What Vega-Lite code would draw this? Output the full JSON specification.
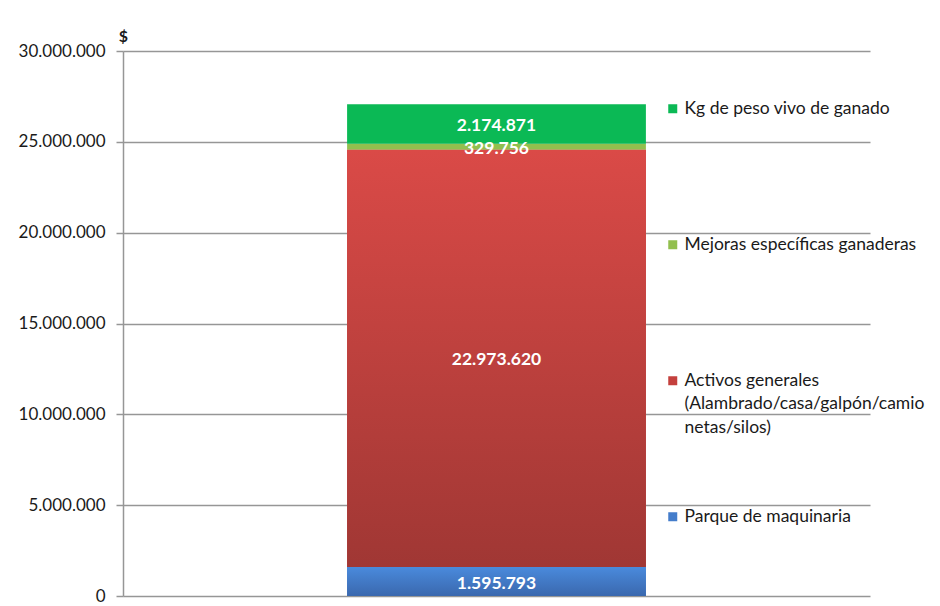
{
  "$schema": "https://vega.github.io/schema/vega-lite/v6.json",
  "width": 747,
  "height": 545,
  "autosize": {"type": "none"},
  "padding": {"left": 123, "top": 51, "right": 70, "bottom": 10},
  "background": "white",
  "config": {
    "view": {"stroke": null},
    "font": "Lato",
    "locale": {"number": {"decimal": ",", "thousands": ".", "grouping": [3], "currency": ["$", ""]}},
    "style": {"guide-label": {"lineHeight": 23.5}}
  },
  "data": {
    "values": [
      {"cat": "Parque de maquinaria", "value": 1595793, "ord": 1},
      {"cat": "Activos generales (Alambrado/casa/galpón/camionetas/silos)", "value": 22973620, "ord": 2},
      {"cat": "Mejoras específicas ganaderas", "value": 329756, "ord": 3},
      {"cat": "Kg de peso vivo de ganado", "value": 2174871, "ord": 4}
    ]
  },
  "transform": [
    {"stack": "value", "groupby": [], "sort": [{"field": "ord"}], "as": ["y0", "y1"]},
    {"calculate": "(datum.y0 + datum.y1) / 2", "as": "mid"},
    {"calculate": "'Total'", "as": "grp"}
  ],
  "encoding": {
    "x": {"field": "grp", "type": "nominal", "axis": null, "scale": {"paddingInner": 0, "paddingOuter": 0}}
  },
  "layer": [
    {
      "mark": {"type": "bar", "width": {"band": 0.4}},
      "encoding": {
        "y": {
          "field": "y0", "type": "quantitative",
          "scale": {"domain": [0, 30000000], "nice": false},
          "axis": {
            "values": [0, 5000000, 10000000, 15000000, 20000000, 25000000, 30000000],
            "format": ",d",
            "title": "$",
            "titleAngle": 0,
            "titleX": 0,
            "titleY": -10,
            "titleAlign": "center",
            "titleBaseline": "alphabetic",
            "titleFontSize": 16,
            "titleFontWeight": "bold",
            "titleColor": "#1a1a1a",
            "labelFontSize": 17,
            "labelColor": "#1a1a1a",
            "labelPadding": 11,
            "tickSize": 7,
            "tickColor": "#969696",
            "tickWidth": 1.5,
            "domainColor": "#969696",
            "domainWidth": 1.5,
            "gridColor": "#969696",
            "gridWidth": 1.5
          }
        },
        "y2": {"field": "y1"},
        "color": {
          "field": "cat", "type": "nominal",
          "scale": {
            "domain": ["Kg de peso vivo de ganado", "Mejoras específicas ganaderas", "Activos generales (Alambrado/casa/galpón/camionetas/silos)", "Parque de maquinaria"],
            "range": ["#0BB955", "#92BF4E", "#C4403D", "#447DCB"]
          },
          "legend": {
            "title": null,
            "orient": "none",
            "legendX": 541,
            "legendY": 49,
            "padding": 0,
            "symbolType": "square",
            "symbolSize": 81,
            "symbolStrokeWidth": 0,
            "symbolOpacity": 1,
            "labelFontSize": 17.5,
            "labelColor": "#1a1a1a",
            "labelLimit": 400,
            "labelOffset": 3,
            "rowPadding": 23,
            "labelExpr": "datum.label == 'Activos generales (Alambrado/casa/galpón/camionetas/silos)' ? ['Activos generales', '(Alambrado/casa/galpón/camio', 'netas/silos)', '', ''] : [datum.label, '', '', '', '']"
          }
        }
      }
    },
    {
      "transform": [{"filter": "datum.ord == 2"}],
      "mark": {
        "type": "bar", "width": {"band": 0.4},
        "color": {"gradient": "linear", "x1": 0, "y1": 0, "x2": 0, "y2": 1, "stops": [{"offset": 0, "color": "#DA4A47"}, {"offset": 1, "color": "#A03734"}]}
      },
      "encoding": {"y": {"field": "y0", "type": "quantitative"}, "y2": {"field": "y1"}}
    },
    {
      "transform": [{"filter": "datum.ord == 1"}],
      "mark": {
        "type": "bar", "width": {"band": 0.4},
        "color": {"gradient": "linear", "x1": 0, "y1": 0, "x2": 0, "y2": 1, "stops": [{"offset": 0, "color": "#4A8ADC"}, {"offset": 1, "color": "#3A68AE"}]}
      },
      "encoding": {"y": {"field": "y0", "type": "quantitative"}, "y2": {"field": "y1"}}
    },
    {
      "mark": {"type": "text", "color": "white", "fontSize": 17.5, "fontWeight": "bold", "baseline": "middle", "dy": 2},
      "encoding": {
        "y": {"field": "mid", "type": "quantitative"},
        "text": {"field": "value", "type": "quantitative", "format": ",d"}
      }
    }
  ]
}
